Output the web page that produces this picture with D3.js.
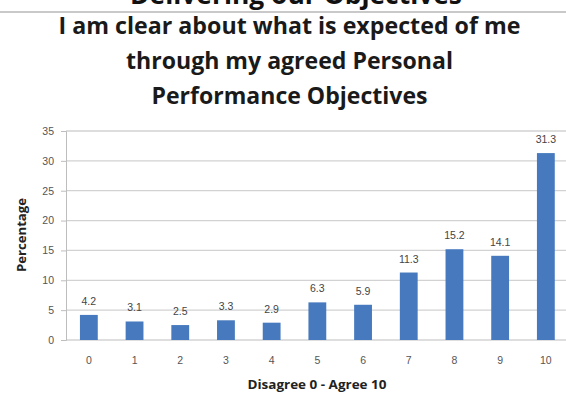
<!DOCTYPE html>
<html>
<head>
<meta charset="utf-8">
<script src="https://cdn.jsdelivr.net/npm/d3@7"></script>
<style>
  html, body { margin: 0; padding: 0; background: #fff; }
  svg { display: block; }
</style>
</head>
<body>
<svg id="chart" width="566" height="396"></svg>
<script>
// Survey scores (0 = disagree, 10 = agree) and share of respondents in percent
const categories = ["0", "1", "2", "3", "4", "5", "6", "7", "8", "9", "10"];
const values = [4.2, 3.1, 2.5, 3.3, 2.9, 6.3, 5.9, 11.3, 15.2, 14.1, 31.3];
const yTicks = [0, 5, 10, 15, 20, 25, 30, 35];
const titleLines = [
  "I am clear about what is expected of me",
  "through my agreed Personal",
  "Performance Objectives"
];
const sectionTitle = "Delivering our Objectives";
const xAxisTitle = "Disagree 0 - Agree 10";
const yAxisTitle = "Percentage";

const svg = d3.select("#chart");
const W = 566;
const plot = { left: 66, top: 131, bottom: 340 };
const step = 45.7;

const x = d3.scaleBand()
  .domain(categories)
  .range([plot.left, plot.left + step * categories.length])
  .paddingInner(0.61)
  .paddingOuter(0.305);

const y = d3.scaleLinear().domain([0, 35]).range([plot.bottom, plot.top]);

const titleFont = "'Open Sans', Lato, sans-serif";
const bodyFont = "'Liberation Sans', Arial, sans-serif";

// Section heading running off the top edge, with its rule
svg.append("text")
  .attr("x", 296).attr("y", 4)
  .attr("text-anchor", "middle")
  .attr("font-family", titleFont).attr("font-weight", 700)
  .attr("font-size", 26).attr("fill", "#111")
  .attr("textLength", 332).attr("lengthAdjust", "spacingAndGlyphs")
  .text(sectionTitle);
svg.append("line")
  .attr("x1", 0).attr("x2", W).attr("y1", 12).attr("y2", 12)
  .attr("stroke", "#c9c9c9").attr("stroke-width", 2);

// Chart title
const titleWidths = [462, 327, 276];
svg.append("g").selectAll("text").data(titleLines).join("text")
  .attr("x", 289.5).attr("y", (d, i) => 34 + i * 35)
  .attr("text-anchor", "middle")
  .attr("font-family", titleFont).attr("font-weight", 700)
  .attr("font-size", 23).attr("fill", "#1a1a1a")
  .attr("textLength", (d, i) => titleWidths[i]).attr("lengthAdjust", "spacingAndGlyphs")
  .text(d => d);

// Horizontal gridlines
svg.append("g").selectAll("line").data(yTicks.filter(t => t > 0)).join("line")
  .attr("x1", plot.left).attr("x2", W)
  .attr("y1", d => y(d)).attr("y2", d => y(d))
  .attr("stroke", "#d2d2d2").attr("stroke-width", 1.3);

// Y axis
const yAxis = svg.append("g")
  .attr("transform", `translate(${plot.left},0)`)
  .call(d3.axisLeft(y).tickValues(yTicks).tickSize(5).tickPadding(7).tickFormat(d3.format("d")));
yAxis.select(".domain").attr("stroke", "#bdbdbd");
yAxis.selectAll(".tick line").attr("stroke", "#bdbdbd");
yAxis.selectAll(".tick text")
  .attr("font-family", bodyFont).attr("font-size", 10.5).attr("fill", "#555");

// X axis
const xAxis = svg.append("g")
  .attr("transform", `translate(0,${plot.bottom})`)
  .call(d3.axisBottom(x).tickSize(0).tickPadding(17));
xAxis.select(".domain").attr("stroke", "#bdbdbd").attr("d", `M${plot.left},0H${W}`);
xAxis.selectAll(".tick text")
  .attr("font-family", bodyFont).attr("font-size", 10.5).attr("fill", "#555");

// Bars
svg.append("g").selectAll("rect").data(values).join("rect")
  .attr("x", (d, i) => x(categories[i]))
  .attr("y", d => y(d))
  .attr("width", x.bandwidth())
  .attr("height", d => y(0) - y(d))
  .attr("fill", "#4679bd");

// Value labels
svg.append("g").selectAll("text").data(values).join("text")
  .attr("x", (d, i) => x(categories[i]) + x.bandwidth() / 2)
  .attr("y", d => y(d) - 10)
  .attr("text-anchor", "middle")
  .attr("font-family", bodyFont).attr("font-size", 10.5).attr("fill", "#444")
  .text(d => d3.format(".1f")(d));

// Axis titles
svg.append("text")
  .attr("x", 317).attr("y", 389)
  .attr("text-anchor", "middle")
  .attr("font-family", titleFont).attr("font-weight", 700)
  .attr("font-size", 11.5).attr("fill", "#222")
  .attr("textLength", 139).attr("lengthAdjust", "spacingAndGlyphs")
  .text(xAxisTitle);
svg.append("text")
  .attr("transform", "translate(26,235) rotate(-90)")
  .attr("text-anchor", "middle")
  .attr("font-family", titleFont).attr("font-weight", 700)
  .attr("font-size", 12).attr("fill", "#222")
  .attr("textLength", 74).attr("lengthAdjust", "spacingAndGlyphs")
  .text(yAxisTitle);
</script>
</body>
</html>
